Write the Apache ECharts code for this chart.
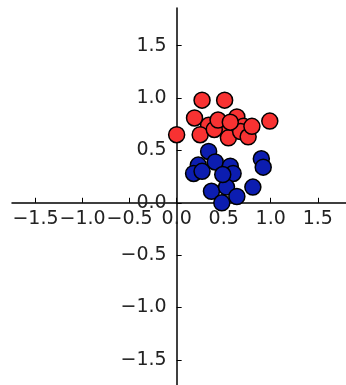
<!DOCTYPE html>
<html>
<head>
<meta charset="utf-8">
<script src="https://cdn.jsdelivr.net/npm/echarts@6/dist/echarts.min.js"></script>
<style>
  html, body { margin: 0; padding: 0; background: #fff; }
  #chart { width: 346px; height: 385px; }
</style>
</head>
<body>
<div id="chart"></div>
<script>
// tick positions and their labels (matplotlib style, unicode minus)
const tickValues = [-1.5, -1.0, -0.5, 0.0, 0.5, 1.0, 1.5];
const tickLabels = ['\u22121.5', '\u22121.0', '\u22120.5', '0.0', '0.5', '1.0', '1.5'];

// red cluster, [x, y]
const redPoints = [
    [0.27, 0.98], [0.51, 0.98], [0.00, 0.65], [0.19, 0.81], [0.34, 0.74],
    [0.25, 0.65], [0.50, 0.73], [0.64, 0.82], [0.71, 0.73], [0.55, 0.62],
    [0.68, 0.68], [0.76, 0.63], [0.80, 0.73], [0.99, 0.78], [0.40, 0.70],
    [0.44, 0.79], [0.57, 0.77]
];

// blue cluster, [x, y]
const bluePoints = [
    [0.34, 0.49], [0.23, 0.36], [0.18, 0.28], [0.41, 0.39], [0.57, 0.35],
    [0.60, 0.28], [0.90, 0.42], [0.92, 0.34], [0.37, 0.11], [0.53, 0.15],
    [0.48, 0.00], [0.64, 0.06], [0.81, 0.15], [0.27, 0.30], [0.49, 0.27]
];

const xMin = -1.75, xMax = 1.80;
const yMin = -1.74, yMax = 1.86;

const chart = echarts.init(document.getElementById('chart'));

const labelFmt = (v) => {
    const i = tickValues.findIndex(t => Math.abs(t - v) < 1e-6);
    return i >= 0 ? tickLabels[i] : '';
};

const grid = { left: 12, top: 8, width: 334, height: 377 };
// spines cross at the data origin (matplotlib "centered spines"):
// move each axis inward from its grid edge to where zero sits
const xAxisOffset = -grid.height * (0 - yMin) / (yMax - yMin);
const yAxisOffset = -grid.width * (0 - xMin) / (xMax - xMin);

const axisCommon = {
    type: 'value',
    splitLine: { show: false },
    axisLine: { onZero: false, lineStyle: { color: '#000', width: 1.5 } },
    axisTick: {
        inside: true,
        length: 5,
        customValues: tickValues,
        lineStyle: { color: '#000', width: 1 }
    },
    axisLabel: {
        customValues: tickValues,
        formatter: labelFmt,
        interval: 0,
        color: '#222',
        fontFamily: 'DejaVu Sans',
        fontSize: 19,
        showMinLabel: true,
        showMaxLabel: true,
        hideOverlap: false
    }
};

const option = {
    animation: false,
    grid: Object.assign({ outerBoundsMode: 'none', containLabel: false }, grid),
    xAxis: Object.assign({}, axisCommon, {
        min: xMin,
        max: xMax,
        position: 'bottom',
        offset: xAxisOffset,
        axisLabel: Object.assign({}, axisCommon.axisLabel, { margin: 7 })
    }),
    yAxis: Object.assign({}, axisCommon, {
        min: yMin,
        max: yMax,
        position: 'left',
        offset: yAxisOffset,
        axisLabel: Object.assign({}, axisCommon.axisLabel, { margin: 10 })
    }),
    series: [
        {
            name: 'blue',
            type: 'scatter',
            data: bluePoints,
            symbolSize: 16,
            itemStyle: { color: '#0c1db0', borderColor: '#000', borderWidth: 1.5, opacity: 1 }
        },
        {
            name: 'red',
            type: 'scatter',
            data: redPoints,
            symbolSize: 16,
            itemStyle: { color: '#f83232', borderColor: '#000', borderWidth: 1.5, opacity: 1 }
        }
    ]
};

chart.setOption(option);
</script>
</body>
</html>
